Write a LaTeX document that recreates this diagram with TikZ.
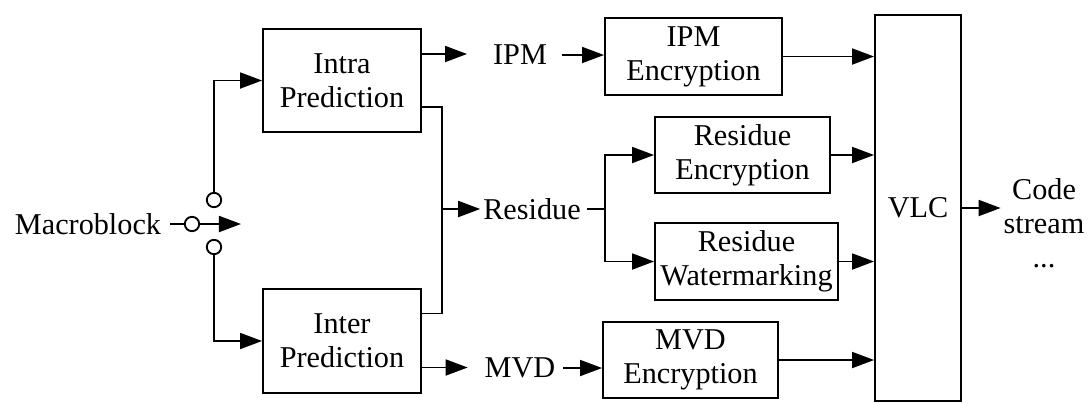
\documentclass[tikz,border=0pt]{standalone}
\usepackage{fontspec}
\setmainfont{Liberation Serif}
\usetikzlibrary{arrows.meta,calc}

\begin{document}
\begin{tikzpicture}[
  x=0.025cm, y=-0.025cm,
  >={Triangle[length=5.5mm, width=4mm]},
  every node/.style = {font=\fontsize{21.5}{24}\selectfont},
  line/.style   = {line width=1.3pt, black},
  arr/.style    = {line, ->},
  blk/.style    = {draw, line width=1.3pt, align=center, inner sep=2pt},
  lbl/.style    = {inner sep=2pt, align=center},
  contact/.style = {circle, draw, line width=1.3pt, minimum size=0.36cm, inner sep=0pt},
]
\useasboundingbox (0,0) rectangle (1092,403);

%% ------------------------------------------------------------------ SWITCH
\node[lbl] (mb) at (88,224) {Macroblock};
\node[contact] (swin) at (192,224) {};
\node[contact] (swup) at (214,200) {};
\node[contact] (swdn) at (214,247) {};
\coordinate (swtip) at (241,224);
\draw[line, shorten <=0.15cm] (mb) -- (swin);
\draw[arr] (swin) -- (swtip);

%% ------------------------------------------------------------------ PREDICTION
\node[blk, minimum width=3.95cm, minimum height=2.575cm] (intra) at (342,80.5)
  {Intra\\Prediction};
\node[blk, minimum width=3.95cm, minimum height=2.6cm] (inter) at (342,341)
  {Inter\\Prediction};
\draw[arr] (swup) |- (intra);
\draw[arr] (swdn) |- (inter);

\node[lbl] (ipm) at (520,55) {IPM};
\node[lbl] (mvd) at (520,368) {MVD};
\node[lbl] (residue) at (532,209) {Residue};

% outlets on the right side of the two prediction blocks
\coordinate (intraout) at ($(intra.east)+(0,-26.5)$);
\coordinate (intrares) at ($(intra.east)+(0,26.5)$);
\coordinate (interout) at ($(inter.east)+(0,26.5)$);
\coordinate (interres) at ($(inter.east)+(0,-27.5)$);

\draw[arr, shorten >=0.575cm] (intraout) -- (intraout -| ipm.west);
\draw[arr, shorten >=0.35cm] (interout) -- (interout -| mvd.west);

% both predictions merge into the residue
\coordinate (jn) at (442,209);
\draw[line] (intrares) -| (jn);
\draw[line] (interres) -| (jn);
\draw[arr] (jn) -- (residue);

%% ------------------------------------------------------------------ PROTECTION
\node[blk, minimum width=4.425cm, minimum height=1.925cm] (ipmenc) at (693.5,56.5)
  {IPM\\Encryption};
\node[blk, minimum width=4.375cm, minimum height=1.9cm] (resenc) at (742.5,155)
  {Residue\\Encryption};
\node[blk, minimum width=4.575cm, minimum height=1.925cm] (reswm) at (746.5,261.5)
  {Residue\\Watermarking};
\node[blk, minimum width=4.375cm, minimum height=1.9cm] (mvdenc) at (690.5,360)
  {MVD\\Encryption};

\draw[arr, shorten <=0.3cm] (ipm.east) -- (ipm.east -| ipmenc.west);
\draw[arr, shorten <=0.12cm] (mvd.east) -- (mvd.east -| mvdenc.west);

\coordinate (rb) at (605,209);
\draw[line, shorten <=0.08cm] (residue) -- (rb);
\draw[arr] (rb) |- (resenc);
\draw[arr] (rb) |- (reswm);

%% ------------------------------------------------------------------ VLC
\node[blk, minimum width=2.15cm, minimum height=9.65cm] (vlc) at (918,208) {VLC};
\foreach \src in {ipmenc, resenc, reswm, mvdenc}
  { \draw[arr] (\src.east) -- (\src.east -| vlc.west); }

\node[lbl] (code) at (1044,223) {Code\\stream\\...};
\draw[arr] (vlc.east) -- (vlc.east -| code.west);

\end{tikzpicture}
\end{document}
